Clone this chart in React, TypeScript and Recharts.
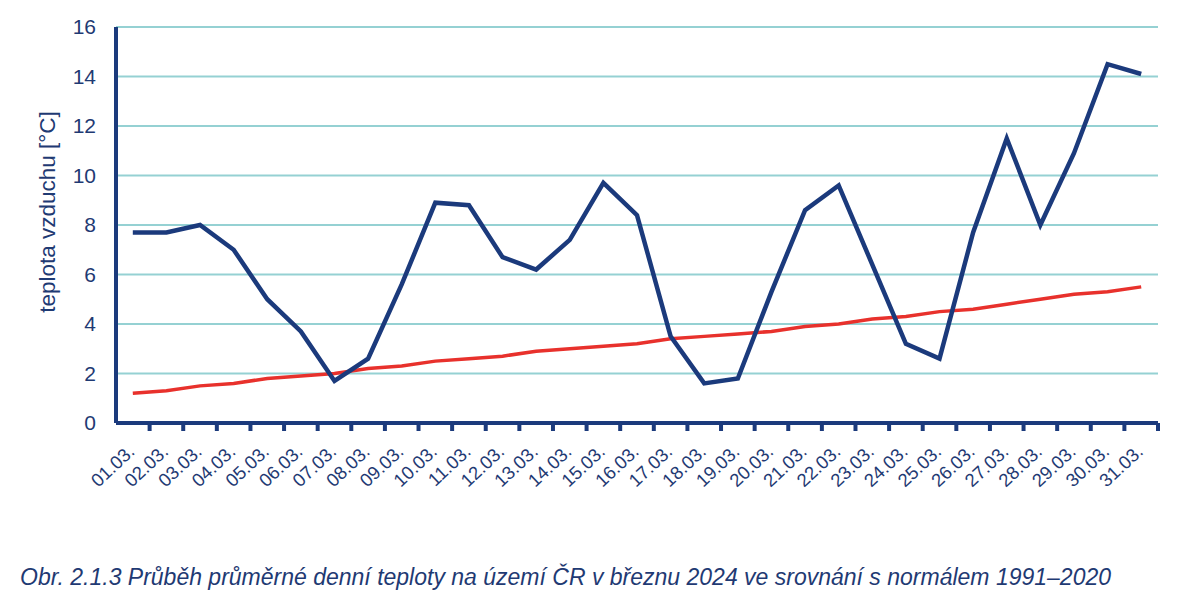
import { LineChart, Line, XAxis, YAxis, CartesianGrid } from "recharts";

const NAVY = "#1B3A7C";
const TEXT = "#1F3A73";
const RED = "#E8312C";
const GRID = "#95D1D3";
const FONT = "'Liberation Sans', Arial, sans-serif";

const days = [
  "01.03.", "02.03.", "03.03.", "04.03.", "05.03.", "06.03.", "07.03.", "08.03.",
  "09.03.", "10.03.", "11.03.", "12.03.", "13.03.", "14.03.", "15.03.", "16.03.",
  "17.03.", "18.03.", "19.03.", "20.03.", "21.03.", "22.03.", "23.03.", "24.03.",
  "25.03.", "26.03.", "27.03.", "28.03.", "29.03.", "30.03.", "31.03.",
];

// průměrná denní teplota 2024
const temp2024 = [
  7.7, 7.7, 8.0, 7.0, 5.0, 3.7, 1.7, 2.6, 5.6, 8.9, 8.8, 6.7, 6.2, 7.4, 9.7, 8.4,
  3.5, 1.6, 1.8, 5.3, 8.6, 9.6, 6.4, 3.2, 2.6, 7.7, 11.5, 8.0, 10.9, 14.5, 14.1,
];

// normál 1991–2020
const normal = [
  1.2, 1.3, 1.5, 1.6, 1.8, 1.9, 2.0, 2.2, 2.3, 2.5, 2.6, 2.7, 2.9, 3.0, 3.1, 3.2,
  3.4, 3.5, 3.6, 3.7, 3.9, 4.0, 4.2, 4.3, 4.5, 4.6, 4.8, 5.0, 5.2, 5.3, 5.5,
];

const yTicks = [0, 2, 4, 6, 8, 10, 12, 14, 16];

const data = days.map((d, i) => ({ day: d, t: temp2024[i], n: normal[i] }));

const PLOT_W = 1042;
const HALF = PLOT_W / days.length / 2;

function DayTick(props: any) {
  const { x, y, payload } = props;
  const tx = x + 3;
  const ty = y + 30;
  return (
    <g>
      <line x1={x + HALF} y1={y} x2={x + HALF} y2={y + 8} stroke={NAVY} strokeWidth={4} />
      <text
        x={tx}
        y={ty}
        transform={`rotate(-43, ${tx}, ${ty})`}
        textAnchor="end"
        fill={TEXT}
        fontSize={18.5}
        fontFamily={FONT}
      >
        {payload.value}
      </text>
    </g>
  );
}

function YLabel(props: any) {
  const vb = props.viewBox || {};
  const cx = 47;
  const cy = (vb.y || 0) + (vb.height || 0) / 2 - 13;
  return (
    <text
      x={cx}
      y={cy}
      transform={`rotate(-90, ${cx}, ${cy})`}
      textAnchor="middle"
      dominantBaseline="central"
      fill={TEXT}
      fontSize={22.5}
      fontFamily={FONT}
    >
      teplota vzduchu [°C]
    </text>
  );
}

export default function App() {
  return (
    <div style={{ position: "absolute", left: 0, top: 0, width: 1200, height: 603, background: "#fff" }}>
      <LineChart width={1200} height={540} data={data} margin={{ top: 27, right: 42, left: 0, bottom: 0 }}>
        <CartesianGrid horizontal vertical={false} stroke={GRID} strokeWidth={2} />
        <XAxis
          dataKey="day"
          interval={0}
          height={117}
          padding={{ left: HALF, right: HALF }}
          axisLine={{ stroke: NAVY, strokeWidth: 4 }}
          tickLine={false}
          tickSize={0}
          tickMargin={0}
          tick={<DayTick />}
        />
        <YAxis
          domain={[0, 16]}
          ticks={yTicks}
          width={116}
          axisLine={{ stroke: NAVY, strokeWidth: 4 }}
          tickLine={false}
          tickSize={0}
          tickMargin={20}
          tick={{ fill: TEXT, fontSize: 21, fontFamily: FONT }}
          label={<YLabel />}
        />
        <Line type="linear" dataKey="n" stroke={RED} strokeWidth={3.5} dot={false} isAnimationActive={false} />
        <Line type="linear" dataKey="t" stroke={NAVY} strokeWidth={4.5} dot={false} isAnimationActive={false} />
      </LineChart>
      <svg width={1200} height={603} style={{ position: "absolute", left: 0, top: 0, pointerEvents: "none" }}>
        <text x={20} y={585} fill={TEXT} fontSize={23} fontStyle="italic" fontFamily={FONT}>
          Obr. 2.1.3 Průběh průměrné denní teploty na území ČR v březnu 2024 ve srovnání s normálem 1991–2020
        </text>
      </svg>
    </div>
  );
}
